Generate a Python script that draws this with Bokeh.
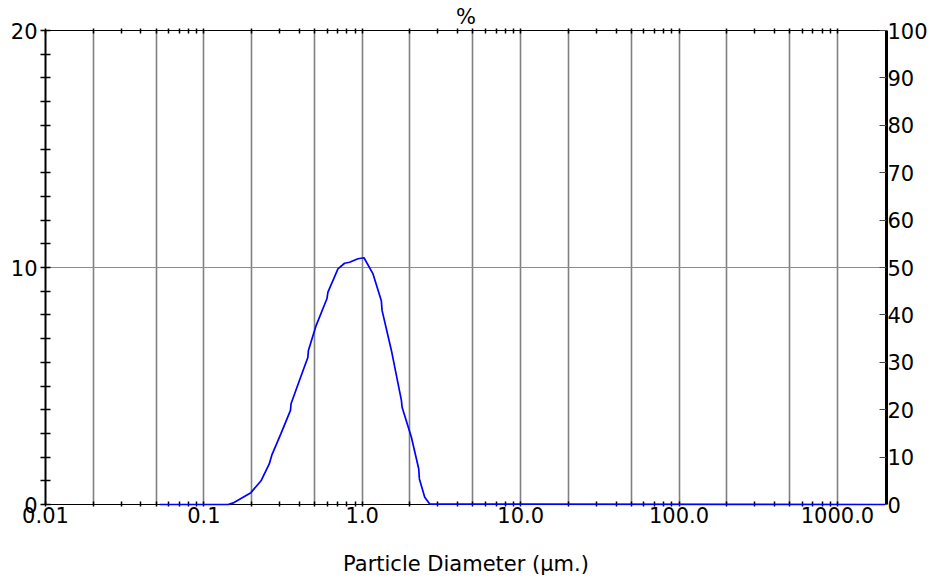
from bokeh.plotting import figure
from bokeh.models import Range1d, LinearAxis, LogAxis, FixedTicker, Grid
from bokeh.embed import file_html
from bokeh.resources import INLINE

# ---- data ----
diameter_um = [0.0527, 0.142, 0.155, 0.198, 0.2295, 0.259, 0.268, 0.307, 0.352, 0.355,
               0.401, 0.453, 0.457, 0.511, 0.598, 0.607, 0.702, 0.773, 0.832, 0.939,
               1.025, 1.169, 1.319, 1.333, 1.527, 1.766, 1.784, 2.042, 2.271, 2.294,
               2.479, 2.666, 2000.0]
volume_pct = [0.0, 0.0, 0.08, 0.5, 1.0, 1.72, 2.07, 3.0, 3.97, 4.25,
              5.23, 6.2, 6.5, 7.55, 8.68, 8.96, 9.94, 10.18, 10.22, 10.37,
              10.41, 9.73, 8.6, 8.19, 6.5, 4.39, 4.1, 2.84, 1.51, 1.08,
              0.31, 0.02, 0.0]

decade_ticks = [0.01, 0.1, 1.0, 10.0, 100.0, 1000.0]
decade_labels = ["0.01", "0.1", "1.0", "10.0", "100.0", "1000.0"]
minor_mult = [2, 3, 4, 5, 6, 7, 8, 9]
grid_mult = [2, 5, 10]
left_major = [0, 10, 20]
left_minor = [i for i in range(1, 20) if i % 10 != 0]
right_ticks = [0, 10, 20, 30, 40, 50, 60, 70, 80, 90, 100]
hgrid_ticks = [10]

minor_ticks = [d * m for d in decade_ticks[:-1] for m in minor_mult]
grid_ticks = [d * m for d in decade_ticks[:-1] for m in grid_mult]

FONT = "DejaVu Sans"
FS = "21px"

p = figure(width=932, height=579, output_backend="svg", toolbar_location=None,
           x_axis_type="log", x_axis_location=None, y_axis_location=None,
           x_range=Range1d(0.01, 2040), y_range=Range1d(0, 20),
           min_border_left=45, min_border_right=46, min_border_top=30, min_border_bottom=75)
p.outline_line_color = None
p.background_fill_color = "white"
p.border_fill_color = "white"
for g in p.grid:
    g.visible = False
p.extra_y_ranges = {"pct": Range1d(0, 100)}

# bottom axis
bx = LogAxis(ticker=FixedTicker(ticks=decade_ticks, minor_ticks=minor_ticks))
bx.major_label_overrides = dict(zip(decade_ticks, decade_labels))
bx.major_tick_in = 3; bx.major_tick_out = 2
bx.minor_tick_in = 3; bx.minor_tick_out = 2
bx.major_tick_line_width = 1.5; bx.minor_tick_line_width = 1.5
bx.axis_line_color = "black"; bx.axis_line_width = 1.2
bx.major_label_text_font = FONT; bx.major_label_text_font_size = FS
bx.major_label_text_color = "black"
bx.major_label_standoff = 0
bx.axis_label = "Particle Diameter (µm.)"
bx.axis_label_text_font = FONT; bx.axis_label_text_font_size = FS
bx.axis_label_text_font_style = "normal"; bx.axis_label_text_color = "black"
bx.axis_label_standoff = 26
p.add_layout(bx, "below")

# top axis
tx = LogAxis(ticker=FixedTicker(ticks=decade_ticks, minor_ticks=minor_ticks))
tx.major_tick_in = 3; tx.major_tick_out = 2
tx.minor_tick_in = 3; tx.minor_tick_out = 2
tx.major_tick_line_width = 1.5; tx.minor_tick_line_width = 1.5
tx.axis_line_color = "black"; tx.axis_line_width = 1.2
tx.major_label_overrides = {t: "" for t in decade_ticks}
tx.major_label_text_font_size = "1px"
tx.major_label_text_color = None
tx.major_label_standoff = 0
tx.axis_label = "%"
tx.axis_label_text_font = FONT; tx.axis_label_text_font_size = FS
tx.axis_label_text_font_style = "normal"; tx.axis_label_text_color = "black"
tx.axis_label_standoff = 0
p.add_layout(tx, "above")

# left axis
ly = LinearAxis(ticker=FixedTicker(ticks=left_major, minor_ticks=left_minor))
ly.major_tick_in = 5; ly.major_tick_out = 5
ly.minor_tick_in = 5; ly.minor_tick_out = 5
ly.major_tick_line_width = 1.5; ly.minor_tick_line_width = 1.5
ly.axis_line_color = "black"; ly.axis_line_width = 2
ly.major_label_text_font = FONT; ly.major_label_text_font_size = FS
ly.major_label_text_color = "black"
ly.major_label_standoff = 3
p.add_layout(ly, "left")

# right axis
ry = LinearAxis(y_range_name="pct", ticker=FixedTicker(ticks=right_ticks))
ry.major_tick_in = 7; ry.major_tick_out = 0
ry.minor_tick_line_color = None
ry.major_tick_line_width = 1; ry.major_tick_line_color = "#444444"
ry.axis_line_color = "black"; ry.axis_line_width = 3
ry.major_label_text_font = FONT; ry.major_label_text_font_size = FS
ry.major_label_text_color = "black"
ry.major_label_standoff = 1
p.add_layout(ry, "right")

# grids
vg = Grid(dimension=0, ticker=FixedTicker(ticks=grid_ticks))
vg.grid_line_color = "#808080"; vg.grid_line_width = 1.6
p.add_layout(vg)
hg = Grid(dimension=1, ticker=FixedTicker(ticks=hgrid_ticks))
hg.grid_line_color = "#8c8c8c"; hg.grid_line_width = 1
p.add_layout(hg)

p.line(diameter_um, volume_pct, line_color="#0000ff", line_width=1.7, level="overlay")

open("out.html", "w").write(file_html(p, INLINE))
